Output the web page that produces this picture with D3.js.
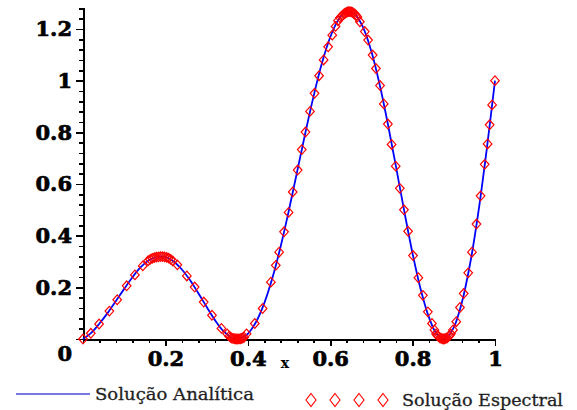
<!DOCTYPE html>
<html>
<head>
<meta charset="utf-8">
<script src="https://cdn.jsdelivr.net/npm/d3@7"></script>
<style>
  body { margin: 0; background: #fff; }
</style>
</head>
<body>
<div id="grafica"></div>
<script>
// valores

// solucao analitica (linha azul)
var xAnalitica = [0, 0.02, 0.04, 0.06, 0.08, 0.10, 0.12, 0.14, 0.16, 0.18, 0.20, 0.22, 0.24, 0.26, 0.28, 0.30,
  0.32, 0.34, 0.36, 0.38, 0.40, 0.42, 0.44, 0.46, 0.48, 0.50, 0.52, 0.54, 0.56, 0.58, 0.60, 0.62, 0.64,
  0.66, 0.68, 0.70, 0.72, 0.74, 0.76, 0.78, 0.80, 0.82, 0.84, 0.86, 0.88, 0.90, 0.92, 0.94, 0.96, 0.98, 1.00];
var yAnalitica = [0, 0.024, 0.06, 0.101, 0.147, 0.194, 0.239, 0.278, 0.305, 0.318, 0.317, 0.300, 0.269, 0.227, 0.177, 0.125,
  0.074, 0.032, 0.006, 0.001, 0.020, 0.066, 0.139, 0.238, 0.36, 0.50, 0.65, 0.80, 0.942, 1.068, 1.168, 1.236, 1.266,
  1.257, 1.205, 1.113, 0.985, 0.832, 0.664, 0.493, 0.330, 0.19, 0.083, 0.016, 0.002, 0.045, 0.144, 0.295, 0.495, 0.735, 1.00];

// solucao espectral (losangos vermelhos)
var xEspectral = [0, 0.019, 0.039, 0.064, 0.083, 0.106, 0.126, 0.145,
  0.158, 0.163, 0.168, 0.173, 0.178, 0.183, 0.188, 0.193, 0.198, 0.203, 0.208, 0.213, 0.218,
  0.229, 0.252, 0.271, 0.293, 0.313, 0.336, 0.350,
  0.355, 0.358, 0.361, 0.364, 0.367, 0.370, 0.373, 0.376, 0.379, 0.382, 0.385, 0.388, 0.391,
  0.397, 0.417, 0.436, 0.456, 0.468, 0.476, 0.488, 0.499, 0.509, 0.521, 0.531, 0.540, 0.551, 0.562,
  0.573, 0.584, 0.595, 0.605, 0.613, 0.619,
  0.624, 0.627, 0.630, 0.633, 0.636, 0.639, 0.642, 0.645, 0.648, 0.651, 0.654, 0.657, 0.660, 0.663, 0.666,
  0.672, 0.684, 0.692, 0.703, 0.711, 0.721, 0.730, 0.740, 0.749, 0.759, 0.769, 0.779, 0.789, 0.801, 0.814,
  0.825, 0.837, 0.847, 0.853,
  0.857, 0.860, 0.863, 0.866, 0.869, 0.872, 0.875, 0.878, 0.881, 0.884, 0.887, 0.890, 0.893,
  0.898, 0.906, 0.915, 0.924, 0.935, 0.944, 0.955, 0.965, 0.975, 0.982, 0.987, 0.993, 1.0];
var yEspectral = [0, 0.022, 0.058, 0.108, 0.152, 0.206, 0.248, 0.283,
  0.303, 0.308, 0.312, 0.315, 0.317, 0.318, 0.319, 0.319, 0.318, 0.316, 0.313, 0.308, 0.302,
  0.287, 0.244, 0.201, 0.143, 0.092, 0.041, 0.02,
  0.011, 0.007, 0.004, 0.0025, 0.001, 0.0004, 0, 0, 0.0004, 0.001, 0.0025, 0.004, 0.007,
  0.02, 0.06, 0.118, 0.22, 0.285, 0.336, 0.415, 0.49, 0.569, 0.654, 0.733, 0.801, 0.881, 0.951,
  1.019, 1.08, 1.131, 1.176, 1.21, 1.232,
  1.243, 1.248, 1.253, 1.257, 1.261, 1.264, 1.266, 1.267, 1.267, 1.266, 1.264, 1.261, 1.257, 1.252, 1.246,
  1.228, 1.19, 1.157, 1.099, 1.047, 0.981, 0.91, 0.832, 0.753, 0.669, 0.583, 0.5, 0.417, 0.323, 0.237,
  0.169, 0.105, 0.06, 0.035,
  0.02, 0.014, 0.009, 0.005, 0.0025, 0.0007, 0, 0.0007, 0.0025, 0.005, 0.009, 0.014, 0.02,
  0.035, 0.067, 0.122, 0.176, 0.256, 0.336, 0.445, 0.554, 0.676, 0.755, 0.829, 0.906, 1.0];

var xTicks = [0.2, 0.4, 0.6, 0.8, 1];
var xTickLabels = ["0.2", "0.4", "0.6", "0.8", "1"];
var yTicks = [0, 0.2, 0.4, 0.6, 0.8, 1, 1.2];
var yTickLabels = ["0", "0.2", "0.4", "0.6", "0.8", "1", "1.2"];
var xTitulo = "x";
var legendas = ["Solução Analítica", "Solução Espectral"];

var width = 577, height = 410;

var svg = d3.select("#grafica")
  .append("svg")
  .attr("width", width)
  .attr("height", height);

var x = d3.scaleLinear().domain([0, 1]).range([83, 495]);
var y = d3.scaleLinear().domain([0, 1.285]).range([339, 7]);

// ticks menores a cada 0.04
var xMinor = d3.range(0, 1.0001, 0.04);
var yMinor = d3.range(0, 1.285, 0.04);

// eixo y
var gy = svg.append("g").attr("transform", "translate(83,0)");
gy.call(d3.axisLeft(y).tickValues(yMinor).tickSize(4).tickSizeOuter(0).tickFormat(""));
gy.append("g").call(d3.axisLeft(y).tickValues(yTicks).tickSize(7).tickPadding(4)
  .tickFormat(function(d, i) { return yTickLabels[i]; }))
  .call(function(g) { g.select(".domain").remove(); });

// eixo x
var gx = svg.append("g").attr("transform", "translate(0,339)");
gx.call(d3.axisBottom(x).tickValues(xMinor).tickSize(4).tickSizeOuter(0).tickFormat(""));
gx.append("g").call(d3.axisBottom(x).tickValues(xTicks).tickSize(7).tickPadding(5)
  .tickFormat(function(d, i) { return xTickLabels[i]; }))
  .call(function(g) { g.select(".domain").remove(); });

svg.selectAll(".domain").attr("stroke", "#000").attr("stroke-width", 2);
svg.selectAll(".tick line").attr("stroke", "#000").attr("stroke-width", 1.6);
svg.selectAll("path, line").attr("shape-rendering", "crispEdges");
svg.selectAll(".tick text")
  .attr("fill", "#000")
  .attr("stroke", "#000")
  .attr("stroke-width", 0.7)
  .style("font-family", "'DejaVu Serif'")
  .style("font-weight", "bold")
  .style("font-size", "21px");

// o "0" do eixo y fica abaixo do eixo x
gy.selectAll(".tick text").filter(function(d) { return d === 0; }).attr("dy", "1.0em");

// titulo do eixo x
svg.append("text")
  .attr("x", 285)
  .attr("y", 368)
  .attr("text-anchor", "middle")
  .style("font-family", "'DejaVu Serif'")
  .style("font-weight", "bold")
  .style("font-size", "14px")
  .text(xTitulo);

// linha analitica
var analitica = xAnalitica.map(function(d, i) { return [d, yAnalitica[i]]; });
svg.append("path")
  .datum(analitica)
  .attr("fill", "none")
  .attr("stroke", "#0000ff")
  .attr("stroke-width", 1.8)
  .attr("d", d3.line()
    .curve(d3.curveCatmullRom)
    .x(function(d) { return x(d[0]); })
    .y(function(d) { return y(d[1]); }));

// losangos
var losango = "M0,-4.8L4.3,0L0,4.8L-4.3,0Z";
svg.append("g")
  .selectAll("path")
  .data(xEspectral)
  .join("path")
  .attr("d", losango)
  .attr("transform", function(d, i) { return "translate(" + x(d) + "," + y(yEspectral[i]) + ")"; })
  .attr("fill", "none")
  .attr("stroke", "#ff0000")
  .attr("stroke-width", 1.2);

// legenda
svg.append("line")
  .attr("x1", 16).attr("x2", 90)
  .attr("y1", 394).attr("y2", 394)
  .attr("stroke", "#4b4be0")
  .attr("stroke-width", 1.5);

svg.append("text")
  .attr("x", 95)
  .attr("y", 400)
  .attr("textLength", 159)
  .attr("lengthAdjust", "spacingAndGlyphs")
  .attr("stroke", "#222")
  .attr("stroke-width", 0.3)
  .style("font-family", "'DejaVu Serif'")
  .style("font-size", "17px")
  .attr("fill", "#222")
  .text(legendas[0]);

var legLosango = "M0,-6.5L5,0L0,6.5L-5,0Z";
svg.append("g")
  .selectAll("path")
  .data([311, 335, 359, 383])
  .join("path")
  .attr("d", legLosango)
  .attr("transform", function(d) { return "translate(" + d + ",400)"; })
  .attr("fill", "none")
  .attr("stroke", "#ff0000")
  .attr("stroke-width", 1.1);

svg.append("text")
  .attr("x", 402)
  .attr("y", 406)
  .attr("textLength", 161)
  .attr("lengthAdjust", "spacingAndGlyphs")
  .attr("stroke", "#222")
  .attr("stroke-width", 0.3)
  .style("font-family", "'DejaVu Serif'")
  .style("font-size", "17px")
  .attr("fill", "#222")
  .text(legendas[1]);
</script>
</body>
</html>
